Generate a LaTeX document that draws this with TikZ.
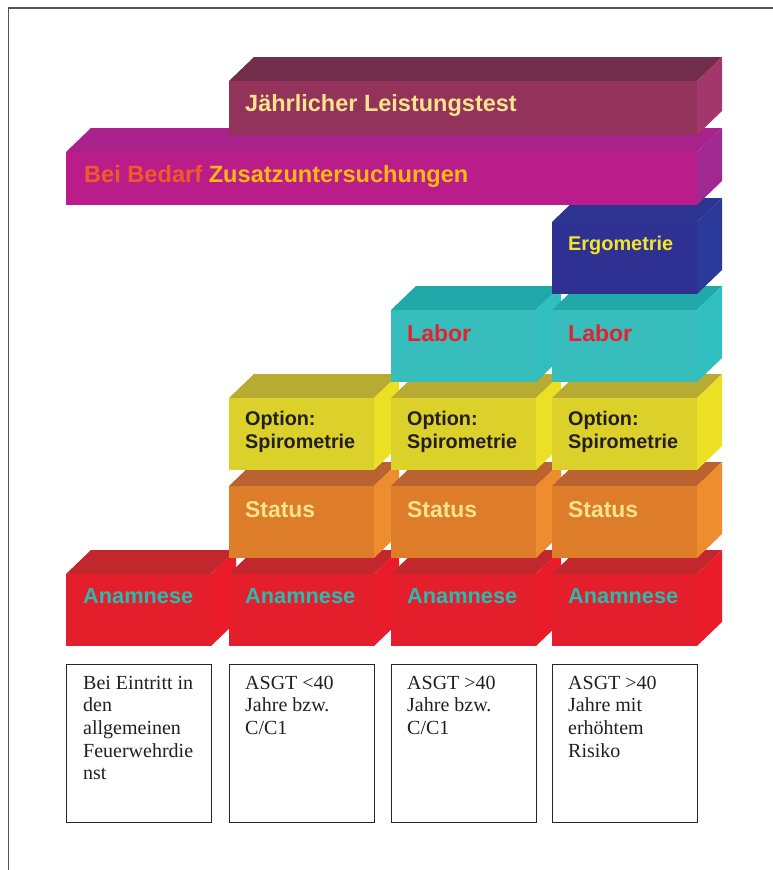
\documentclass[tikz,border=0pt]{standalone}
\usepackage{fontspec}
\setmainfont{Liberation Serif}
\newfontfamily\arialb{Liberation Sans}[UprightFont=*-Bold]
\definecolor{jfront}{HTML}{93325A}
\definecolor{jtop}{HTML}{722D4A}
\definecolor{jside}{HTML}{A3376C}
\definecolor{bfront}{HTML}{BA1C8A}
\definecolor{btop}{HTML}{A9228C}
\definecolor{bside}{HTML}{A02890}
\definecolor{efront}{HTML}{2E3192}
\definecolor{etop}{HTML}{2D3391}
\definecolor{eside}{HTML}{2B3A9A}
\definecolor{lfront}{HTML}{36BDBC}
\definecolor{ltop}{HTML}{20A9A8}
\definecolor{lside}{HTML}{30BFBE}
\definecolor{ofront}{HTML}{DCD02A}
\definecolor{otop}{HTML}{B7AB33}
\definecolor{oside}{HTML}{EBE023}
\definecolor{sfront}{HTML}{DD7D2A}
\definecolor{stop}{HTML}{BA6331}
\definecolor{sside}{HTML}{EE8D2D}
\definecolor{afront}{HTML}{E41F2B}
\definecolor{atop}{HTML}{C1272D}
\definecolor{aside}{HTML}{EA1C2A}
\definecolor{tcream}{HTML}{FAE38C}
\definecolor{tteal}{HTML}{2ABBB0}
\definecolor{tred}{HTML}{E8202E}
\definecolor{tyellow}{HTML}{F2E62A}
\definecolor{tdark}{HTML}{231F20}
\definecolor{torange}{HTML}{F05A28}
\definecolor{tgold}{HTML}{FDB913}
\definecolor{frame}{HTML}{555555}
% \cb{x}{y}{w}{h}{prefix}: 3D box, front face top-left at (x,y)
\newcommand{\cb}[5]{%
  \fill[#5top] (#1,#2) -- (#1+25,#2-24) -- (#1+#3+25,#2-24) -- (#1+#3,#2) -- cycle;
  \fill[#5side] (#1+#3,#2) -- (#1+#3+25,#2-24) -- (#1+#3+25,#2+#4-24) -- (#1+#3,#2+#4) -- cycle;
  \fill[#5front] (#1,#2) rectangle (#1+#3,#2+#4);
}
\tikzset{
  lbl/.style={anchor=base west, inner sep=0pt},
  anam/.style={lbl, text=tteal, font=\arialb\fontsize{21.75}{24}\selectfont},
  stat/.style={lbl, text=tcream, font=\arialb\fontsize{22.9}{24}\selectfont},
  opt/.style={lbl, text=tdark, align=left, font=\arialb\fontsize{19.8}{23}\selectfont},
  lab/.style={lbl, text=tred, font=\arialb\fontsize{23}{24}\selectfont},
  infobox/.style={draw=black!85, line width=1.3pt, anchor=north west, minimum width=145pt, minimum height=158pt, inner sep=0pt},
  infotxt/.style={anchor=base west, inner sep=0pt, align=left, font=\fontsize{20}{22.7}\selectfont, text=tdark}
}
\begin{document}
\begin{tikzpicture}[x=1pt,y=-1pt]
\useasboundingbox (0,0) rectangle (773,870);
\draw[frame, line width=1.5pt] (8.5,870) -- (8.5,8) -- (773,8);
\cb{66}{574}{145}{72}{a}
\cb{229}{574}{145}{72}{a}
\cb{391}{574}{145}{72}{a}
\cb{552}{574}{145}{72}{a}
\cb{229}{486}{145}{72}{s}
\cb{391}{486}{145}{72}{s}
\cb{552}{486}{145}{72}{s}
\cb{229}{398}{145}{72}{o}
\cb{391}{398}{145}{72}{o}
\cb{552}{398}{145}{72}{o}
\cb{391}{310}{145}{72}{l}
\cb{552}{310}{145}{72}{l}
\cb{552}{222}{145}{72}{e}
\cb{66}{152}{631}{53}{b}
\cb{229}{81}{468}{54}{j}
% labels
\node[anam] (an1) at (83,603) {Anamnese};
\node[anam] (an2) at (245,603) {Anamnese};
\node[anam] (an3) at (407,603) {Anamnese};
\node[anam] (an4) at (568,603) {Anamnese};
\node[stat] (st2) at (245,517) {Status};
\node[stat] (st3) at (407,517) {Status};
\node[stat] (st4) at (568,517) {Status};
\node[opt] (op2) at (245,448) {Option:\\Spirometrie};
\node[opt] (op3) at (407,448) {Option:\\Spirometrie};
\node[opt] (op4) at (568,448) {Option:\\Spirometrie};
\node[lab] (la3) at (407,341) {Labor};
\node[lab] (la4) at (568,341) {Labor};
\node[lbl, text=tyellow, font=\arialb\fontsize{19.9}{24}\selectfont] (er4) at (568,250) {Ergometrie};
\node[lbl, font=\arialb\fontsize{23.6}{24}\selectfont] (bb) at (84,182) {\textcolor{torange}{Bei Bedarf} \textcolor{tgold}{Zusatzuntersuchungen}};
\node[lbl, text=tcream, font=\arialb\fontsize{23.5}{24}\selectfont] (jl) at (245,111.5) {Jährlicher Leistungstest};
% info boxes
\node[infobox] (b1) at (66,664) {};
\node[infobox] (b2) at (229,664) {};
\node[infobox] (b3) at (391,664) {};
\node[infobox] (b4) at (552,664) {};
\node[infotxt] (t1) at (83,779.8) {Bei Eintritt in\\den\\allgemeinen\\Feuerwehrdie\\nst};
\node[infotxt] (t2) at (245,734.4) {ASGT <40\\Jahre bzw.\\C/C1};
\node[infotxt] (t3) at (407,734.4) {ASGT >40\\Jahre bzw.\\C/C1};
\node[infotxt] (t4) at (568,757.1) {ASGT >40\\Jahre mit\\erhöhtem\\Risiko};
\end{tikzpicture}
\end{document}
